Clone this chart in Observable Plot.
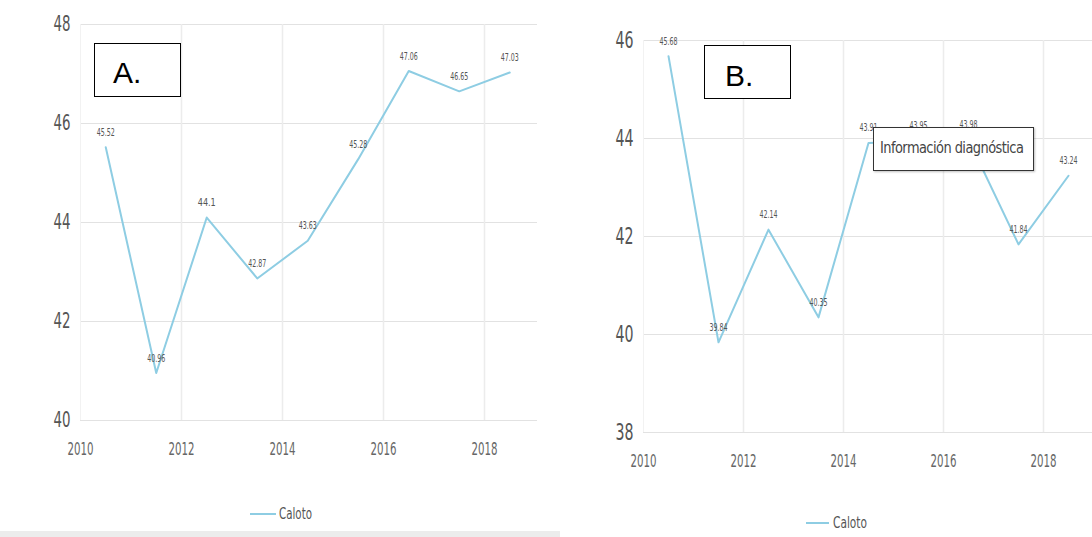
<!DOCTYPE html>
<html><head><meta charset="utf-8">
<script src="https://cdn.jsdelivr.net/npm/d3@7"></script>
<script src="https://cdn.jsdelivr.net/npm/@observablehq/plot@0.6"></script>
<style>
body{margin:0;background:#fff;width:1092px;height:537px;overflow:hidden;position:relative;font-family:"DejaVu Sans Condensed","DejaVu Sans",sans-serif}
.panel{position:absolute;top:0}
.box{position:absolute;border:1px solid #000;background:#fff;font-family:"Liberation Sans",Arial,sans-serif;font-size:30px;color:#000;box-sizing:border-box;line-height:1}
.legend{position:absolute}
.strip{position:absolute;left:0;top:531px;width:560px;height:6px;background:#ececec}
.tip{position:absolute;left:873px;top:127px;width:161px;height:44px;box-sizing:border-box;border:1px solid #333;background:#fff;box-shadow:1px 1px 2px rgba(0,0,0,0.25);overflow:visible}
.tip span{position:absolute;left:6px;top:10px;font-size:16px;letter-spacing:-0.6px;color:#444;white-space:nowrap;font-family:"DejaVu Sans Condensed",sans-serif;transform:scaleX(0.9);transform-origin:left center}
</style>
</head><body>
<div id="A" class="panel" style="left:0"></div>
<div id="B" class="panel" style="left:560px"></div>
<div class="box" style="left:94px;top:43px;width:87px;height:54px"><span style="position:absolute;left:18px;top:14px">A.</span></div>
<div class="box" style="left:704px;top:45px;width:87px;height:54px"><span style="position:absolute;left:20px;top:15px">B.</span></div>
<div class="tip"><span>Información diagnóstica</span></div>
<div class="legend" style="left:248px;top:502px"><svg width="80" height="24"><line x1="2" x2="28" y1="12" y2="12" stroke="#8ecde3" stroke-width="2"/><text x="31" y="17" font-size="15" fill="#555" font-family="DejaVu Sans Condensed" textLength="33" lengthAdjust="spacingAndGlyphs">Caloto</text></svg></div>
<div class="legend" style="left:804px;top:511px"><svg width="80" height="24"><line x1="2" x2="25" y1="12" y2="12" stroke="#8ecde3" stroke-width="2"/><text x="29" y="17" font-size="15" fill="#555" font-family="DejaVu Sans Condensed" textLength="34" lengthAdjust="spacingAndGlyphs">Caloto</text></svg></div>
<div class="strip"></div>
<script>
const years = [2010, 2011, 2012, 2013, 2014, 2015, 2016, 2017, 2018];
const xTickYears = [2010, 2012, 2014, 2016, 2018];
const seriesName = "Caloto";
const valuesA = [45.52, 40.96, 44.1, 42.87, 43.63, 45.28, 47.06, 46.65, 47.03];
const labelsA = ["45.52", "40.96", "44.1", "42.87", "43.63", "45.28", "47.06", "46.65", "47.03"];
const yTicksA = [40, 42, 44, 46, 48];
const valuesB = [45.68, 39.84, 42.14, 40.35, 43.91, 43.95, 43.98, 41.84, 43.24];
const labelsB = ["45.68", "39.84", "42.14", "40.35", "43.91", "43.95", "43.98", "41.84", "43.24"];
const yTicksB = [38, 40, 42, 44, 46];

function squeeze(svg, sel, len) {
  svg.querySelectorAll(sel).forEach(t => {
    t.setAttribute("textLength", len);
    t.setAttribute("lengthAdjust", "spacingAndGlyphs");
  });
}

function panel({values, labels, yTicks, width, height, marginLeft, marginRight, marginTop, marginBottom, xRange, xPad, yFont, yLen}) {
  const data = years.map((year, i) => ({year, value: values[i], label: labels[i]}));
  const svg = Plot.plot({
    width, height, marginLeft, marginRight, marginTop, marginBottom,
    style: {fontFamily: "DejaVu Sans Condensed", background: "transparent", overflow: "visible"},
    x: {domain: [2010, 2019], range: xRange},
    y: {domain: [yTicks[0], yTicks[yTicks.length - 1]]},
    marks: [
      Plot.gridY(yTicks, {stroke: "#e2e2e2", strokeOpacity: 1, strokeWidth: 1.2}),
      Plot.gridX([2012, 2014, 2016, 2018], {stroke: "#ececec", strokeOpacity: 1, strokeWidth: 1.5}),
      Plot.gridX([2010], {stroke: "#f2f2f2", strokeOpacity: 1}),
      Plot.axisX(xTickYears, {tickFormat: d => String(d), tickSize: 0, tickPadding: xPad, fontSize: 17, color: "#666", label: null}),
      Plot.axisY(yTicks, {tickFormat: d => String(d), tickSize: 0, tickPadding: 10, fontSize: yFont, color: "#555", label: null}),
      Plot.lineY(data, {x: d => d.year + 0.5, y: "value", stroke: "#8ecde3", strokeWidth: 2}),
      Plot.text(data, {x: d => d.year + 0.5, y: "value", text: "label", dy: -15, fontSize: 11, fill: "#555"})
    ]
  });
  squeeze(svg, 'g[aria-label="x-axis tick label"] text', 26);
  squeeze(svg, 'g[aria-label="y-axis tick label"] text', yLen);
  squeeze(svg, 'g[aria-label="text"] text', 18);
  return svg;
}

document.getElementById("A").append(panel({
  values: valuesA, labels: labelsA, yTicks: yTicksA,
  width: 545, height: 470, marginLeft: 80, marginRight: 8, marginTop: 24, marginBottom: 50,
  xRange: [80, 534.5], xPad: 22, yFont: 21, yLen: 17
}));
document.getElementById("B").append(panel({
  values: valuesB, labels: labelsB, yTicks: yTicksB,
  width: 532, height: 480, marginLeft: 83, marginRight: 0, marginTop: 40, marginBottom: 48,
  xRange: [83, 533], xPad: 22, yFont: 23, yLen: 18
}));
</script>
</body></html>
